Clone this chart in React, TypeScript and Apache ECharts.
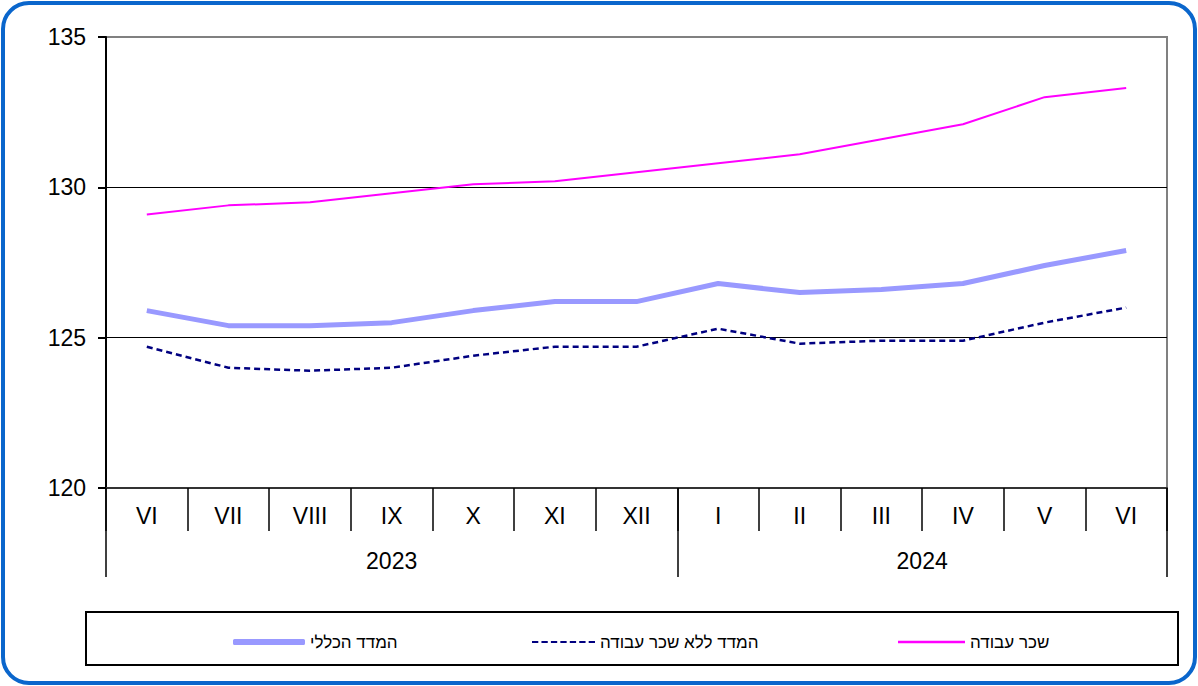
import React, { useEffect, useRef } from "react";
import * as echarts from "echarts";

const months = ["VI", "VII", "VIII", "IX", "X", "XI", "XII", "I", "II", "III", "IV", "V", "VI"];
const years = ["2023", "2024"];
const yearSpans = [7, 6];

const seriesNames = ["המדד הכללי", "המדד ללא שכר עבודה", "שכר עבודה"];
const generalIndex = [125.9, 125.4, 125.4, 125.5, 125.9, 126.2, 126.2, 126.8, 126.5, 126.6, 126.8, 127.4, 127.9];
const excludingWages = [124.7, 124.0, 123.9, 124.0, 124.4, 124.7, 124.7, 125.3, 124.8, 124.9, 124.9, 125.5, 126.0];
const wages = [129.1, 129.4, 129.5, 129.8, 130.1, 130.2, 130.5, 130.8, 131.1, 131.6, 132.1, 133.0, 133.3];

const yTicks = { min: 120, max: 135, interval: 5 };

const FONT = "'Liberation Sans', Arial, sans-serif";

const DASH_ICON =
  "path://M0,0h6v2h-6z M9,0h6v2h-6z M18,0h6v2h-6z M27,0h6v2h-6z M36,0h6v2h-6z M45,0h6v2h-6z M54,0h6v2h-6z";

export default function App() {
  const ref = useRef<HTMLDivElement>(null);

  useEffect(() => {
    if (!ref.current) return;
    const chart = echarts.init(ref.current, null, { renderer: "svg" });

    const boundaries: number[] = [0];
    const centers: number[] = [];
    let acc = 0;
    yearSpans.forEach((s) => {
      centers.push(acc + s / 2);
      acc += s;
      boundaries.push(acc);
    });

    const legendItem = (name: string, left: number, icon: string, w: number, h: number) => ({
      data: [{ name, icon }],
      left,
      top: 637 - 10,
      itemWidth: w,
      itemHeight: h,
      itemGap: 0,
      textStyle: { fontFamily: FONT, fontSize: 17, color: "#000", lineHeight: 20 },
      selectedMode: false,
    });

    chart.setOption({
      animation: false,
      backgroundColor: "#fff",
      grid: {
        left: 106,
        right: 31,
        top: 37,
        bottom: 198,
        show: true,
        borderColor: "#808080",
        borderWidth: 2,
        backgroundColor: "transparent",
      },
      legend: [
        legendItem(seriesNames[0], 228, "roundRect", 72, 6),
        legendItem(seriesNames[1], 527, DASH_ICON, 63, 3),
        legendItem(seriesNames[2], 893, "rect", 67, 2.5),
      ],
      graphic: [
        {
          type: "rect",
          shape: { x: 3, y: 3, width: 1192, height: 680, r: 26 },
          style: { fill: "none", stroke: "#0a66cc", lineWidth: 4 },
          silent: true,
        },
        {
          type: "rect",
          shape: { x: 86, y: 612, width: 1092, height: 53 },
          style: { fill: "none", stroke: "#000", lineWidth: 2 },
          silent: true,
        },
      ],
      xAxis: [
        {
          type: "category",
          data: months,
          boundaryGap: true,
          position: "bottom",
          axisLine: { show: true, lineStyle: { color: "#333", width: 2 } },
          axisTick: { show: true, interval: 0, length: 43, lineStyle: { color: "#000", width: 1.5 } },
          axisLabel: {
            interval: 0,
            margin: 16,
            fontFamily: FONT,
            fontSize: 23,
            color: "#000",
          },
          splitLine: { show: false },
        },
        {
          type: "value",
          min: 0,
          max: boundaries[boundaries.length - 1],
          position: "bottom",
          axisLine: { show: false },
          axisTick: {
            show: true,
            length: 89,
            customValues: boundaries,
            lineStyle: { color: "#000", width: 1.5 },
          },
          axisLabel: {
            show: true,
            customValues: centers,
            margin: 61,
            fontFamily: FONT,
            fontSize: 23,
            color: "#000",
            formatter: (v: number) => {
              const i = centers.findIndex((c) => Math.abs(c - v) < 1e-6);
              return i >= 0 ? years[i] : "";
            },
          },
          splitLine: { show: false },
        },
      ],
      yAxis: {
        type: "value",
        min: yTicks.min,
        max: yTicks.max,
        interval: yTicks.interval,
        axisLine: { show: true, lineStyle: { color: "#000", width: 2 } },
        axisTick: { show: true, length: 8, lineStyle: { color: "#000", width: 2 } },
        axisLabel: { margin: 20, fontFamily: FONT, fontSize: 23, color: "#000" },
        splitLine: {
          show: true,
          showMinLine: false,
          showMaxLine: false,
          lineStyle: { color: "#000", width: 1 },
        },
      },
      series: [
        {
          name: seriesNames[0],
          type: "line",
          data: generalIndex,
          symbol: "none",
          lineStyle: { color: "#9999ff", width: 5 },
          itemStyle: { color: "#9999ff" },
          z: 3,
        },
        {
          name: seriesNames[1],
          type: "line",
          data: excludingWages,
          symbol: "none",
          lineStyle: { color: "#000080", width: 2.5, type: [6, 4] },
          itemStyle: { color: "#000080" },
          z: 4,
        },
        {
          name: seriesNames[2],
          type: "line",
          data: wages,
          symbol: "none",
          lineStyle: { color: "#ff00ff", width: 2 },
          itemStyle: { color: "#ff00ff" },
          z: 5,
        },
      ],
    });

    return () => chart.dispose();
  }, []);

  return (
    <div
      ref={ref}
      style={{ position: "fixed", left: 0, top: 0, width: 1198, height: 686, background: "#fff" }}
    />
  );
}
